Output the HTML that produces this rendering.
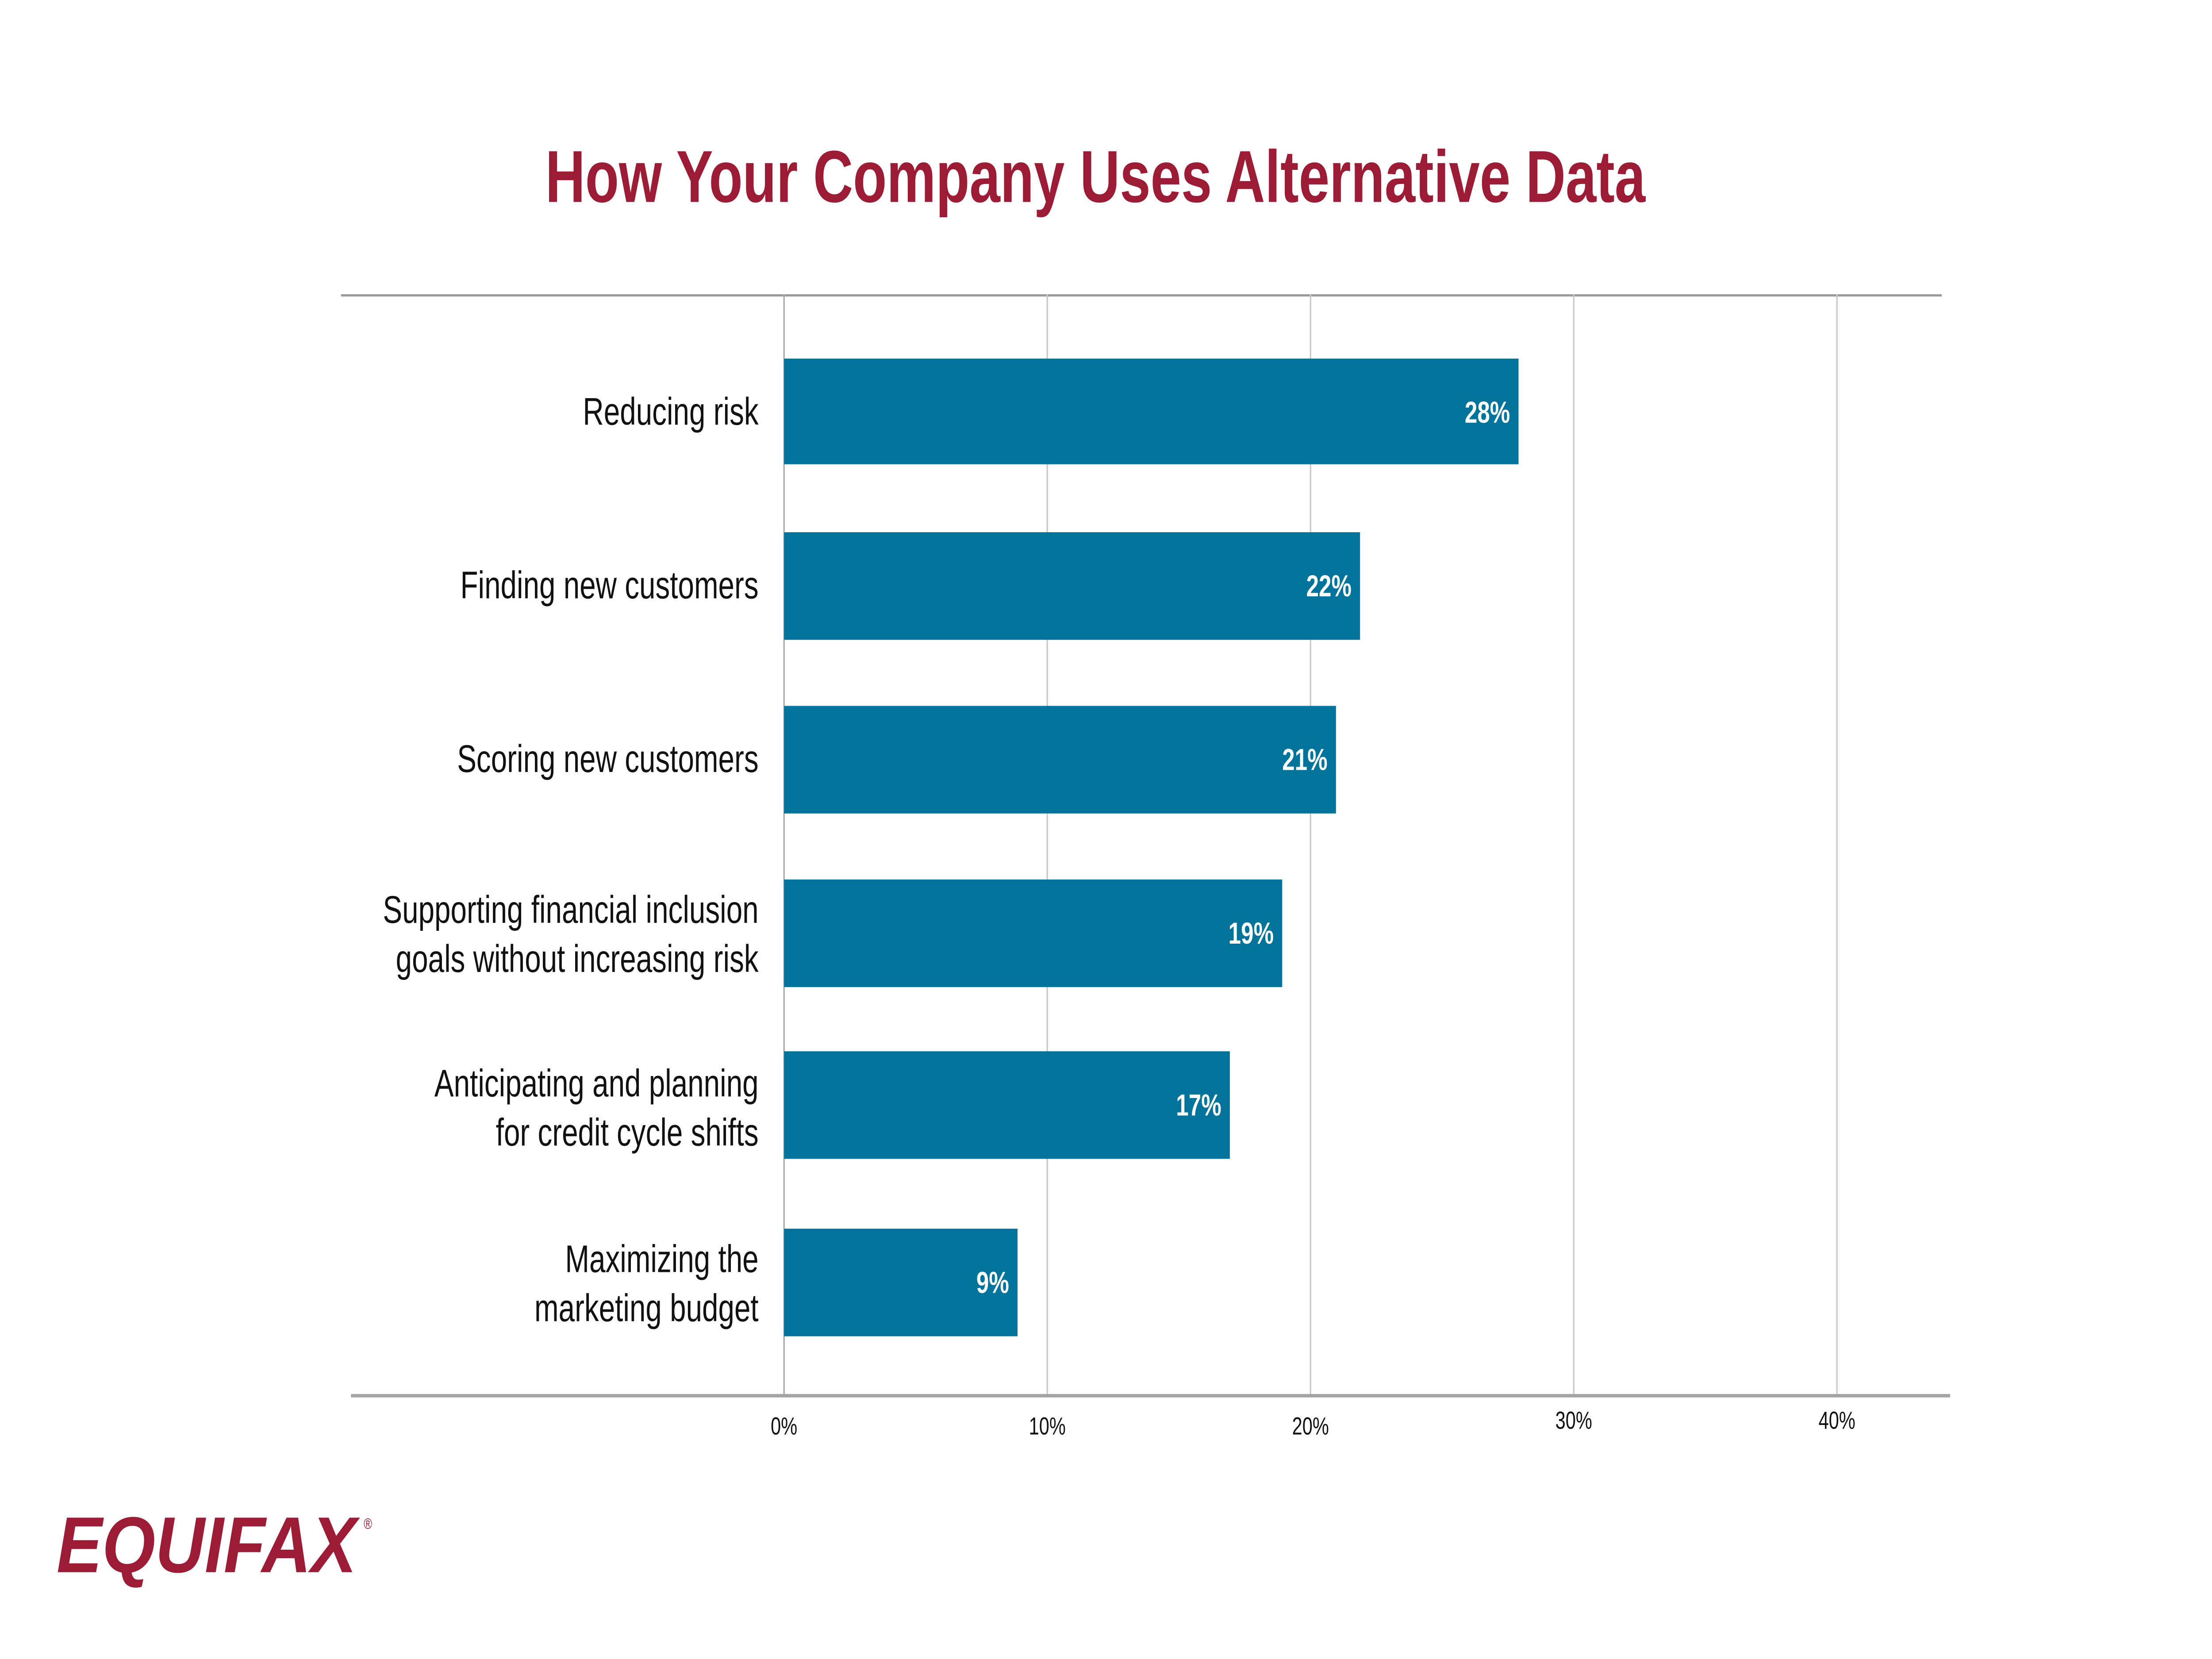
<!DOCTYPE html>
<html><head><meta charset="utf-8"><style>html,body{margin:0;padding:0;background:#fff;width:100%;height:100%;overflow:hidden}svg{display:block;width:100vw;height:100vh}</style></head>
<body>
<svg viewBox="0 0 1563 879" preserveAspectRatio="none" xmlns="http://www.w3.org/2000/svg" font-family="Liberation Sans, sans-serif">
<rect width="1563" height="879" fill="#fff"/>
<text x="774" y="107" text-anchor="middle" font-size="39" font-weight="bold" fill="#9c1b35">How Your Company Uses Alternative Data</text>
<line x1="241" y1="156.5" x2="1372" y2="156.5" stroke="#999" stroke-width="1.2"/>
<g stroke="#c8c8c8" stroke-width="1">
<line x1="740" y1="156" x2="740" y2="739"/><line x1="926" y1="156" x2="926" y2="739"/><line x1="1112" y1="156" x2="1112" y2="739"/><line x1="1298" y1="156" x2="1298" y2="739"/>
</g>
<line x1="554" y1="156" x2="554" y2="739" stroke="#aaa" stroke-width="1"/>
<line x1="248" y1="739.5" x2="1378" y2="739.5" stroke="#a5a5a5" stroke-width="1.8"/>
<g fill="#02739a">
<rect x="554" y="190" width="519" height="56"/>
<rect x="554" y="282" width="407" height="57"/>
<rect x="554" y="374" width="390" height="57"/>
<rect x="554" y="466" width="352" height="57"/>
<rect x="554" y="557" width="315" height="57"/>
<rect x="554" y="651" width="165" height="57"/>
</g>
<g fill="#fff" font-size="16" font-weight="bold" text-anchor="end">
<text x="1067" y="224">28%</text><text x="955" y="316">22%</text><text x="938" y="408">21%</text><text x="900" y="500">19%</text><text x="863" y="591">17%</text><text x="713" y="685">9%</text>
</g>
<g fill="#111" font-size="20.5" text-anchor="end">
<text x="536" y="225">Reducing risk</text>
<text x="536" y="317">Finding new customers</text>
<text x="536" y="409">Scoring new customers</text>
<text x="536" y="489">Supporting financial inclusion</text>
<text x="536" y="515">goals without increasing risk</text>
<text x="536" y="581">Anticipating and planning</text>
<text x="536" y="607">for credit cycle shifts</text>
<text x="536" y="674">Maximizing the</text>
<text x="536" y="700">marketing budget</text>
</g>
<g fill="#111" font-size="13" text-anchor="middle">
<text x="554" y="760">0%</text><text x="740" y="760">10%</text><text x="926" y="760">20%</text><text x="1112" y="757">30%</text><text x="1298" y="757">40%</text>
</g>
<text x="40" y="833" font-size="42" font-weight="bold" font-style="italic" fill="#9c1b35" textLength="212" lengthAdjust="spacingAndGlyphs">EQUIFAX</text>
<text x="257" y="810" font-size="8" fill="#9c1b35">®</text>
</svg>
</body></html>
